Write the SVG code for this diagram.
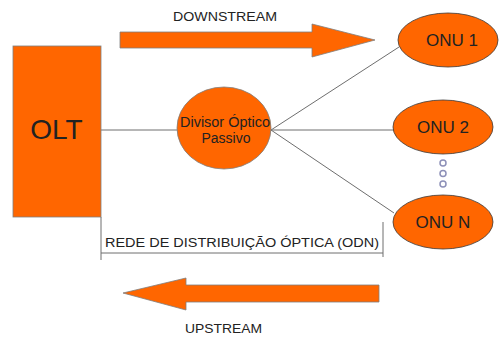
<svg xmlns="http://www.w3.org/2000/svg" width="500" height="338" viewBox="0 0 500 338">
<style>
.shape{fill:#ff6600;stroke:#7f7f7f;stroke-width:0.8}
.onu{fill:#ff6600;stroke:#3a3a3a;stroke-width:0.8}
.ln{stroke:#6e6e6e;stroke-width:1;fill:none}
.t{font-family:"Liberation Sans",Arial,sans-serif;fill:#222}
.dot{fill:#fff;stroke:#8d90b8;stroke-width:1.5}
</style>
<rect width="500" height="338" fill="#fff"/>
<g id="connectors">
<line class="ln" x1="101" y1="130" x2="178" y2="130"/>
<line class="ln" x1="271" y1="130" x2="399" y2="47"/>
<line class="ln" x1="271" y1="130" x2="394" y2="130"/>
<line class="ln" x1="271" y1="130" x2="394" y2="213"/>
</g>
<g id="downstream">
<polygon class="shape" points="120,32 312,32 312,24 375,40 312,57 312,48 120,48"/>
<text class="t" x="173" y="20.5" font-size="13" textLength="104" lengthAdjust="spacingAndGlyphs">DOWNSTREAM</text>
</g>
<g id="olt">
<rect class="shape" x="13" y="46" width="88" height="171"/>
<text class="t" x="56.5" y="138.5" font-size="28" text-anchor="middle" fill="#111">OLT</text>
</g>
<g id="divisor">
<ellipse class="shape" cx="224" cy="128" rx="47" ry="41"/>
<text class="t" x="180" y="127" font-size="14" textLength="90" lengthAdjust="spacingAndGlyphs">Divisor Óptico</text>
<text class="t" x="226" y="143" font-size="14" text-anchor="middle">Passivo</text>
</g>
<g id="onu1">
<ellipse class="onu" cx="448" cy="40" rx="50" ry="27"/>
<text class="t" x="452" y="45.5" font-size="17" text-anchor="middle">ONU 1</text>
</g>
<g id="onu2">
<ellipse class="onu" cx="443" cy="127" rx="50" ry="27"/>
<text class="t" x="443" y="133" font-size="17" text-anchor="middle">ONU 2</text>
</g>
<g id="dots">
<circle class="dot" cx="443" cy="163" r="3"/>
<circle class="dot" cx="443" cy="173.5" r="3"/>
<circle class="dot" cx="443" cy="184" r="3"/>
</g>
<g id="onun">
<ellipse class="onu" cx="443" cy="222" rx="50" ry="27"/>
<text class="t" x="443" y="228" font-size="17" text-anchor="middle">ONU N</text>
</g>
<g id="odn">
<polyline class="ln" points="101,217 101,260"/>
<line class="ln" x1="101" y1="253" x2="383" y2="253"/>
<line class="ln" x1="383" y1="222" x2="383" y2="257"/>
<text class="t" x="105" y="247" font-size="12" textLength="274" lengthAdjust="spacingAndGlyphs">REDE DE DISTRIBUIÇÃO ÓPTICA (ODN)</text>
</g>
<g id="upstream">
<polygon class="shape" points="379,285 186,285 186,278 123,293 186,310 186,302 379,302"/>
<text class="t" x="185" y="333" font-size="13" textLength="77" lengthAdjust="spacingAndGlyphs">UPSTREAM</text>
</g>
</svg>
